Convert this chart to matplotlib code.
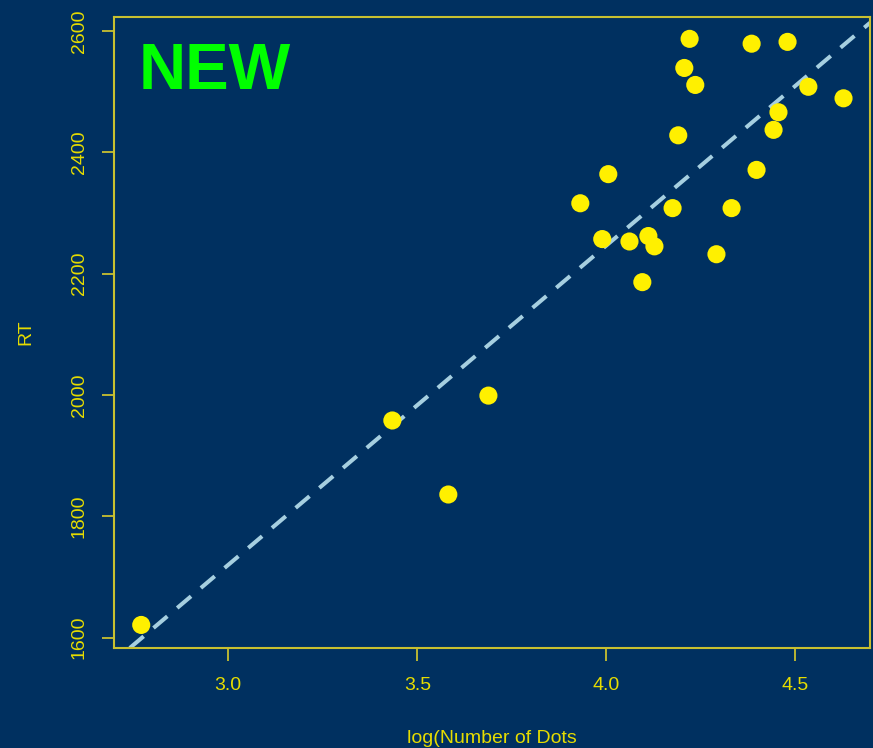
import matplotlib
matplotlib.use("Agg")
import matplotlib.pyplot as plt

plt.rcParams['font.family'] = ['Liberation Sans', 'DejaVu Sans']

log_dots = [2.770, 3.434, 3.582, 3.688, 3.931, 3.989, 4.005, 4.061, 4.095,
            4.111, 4.127, 4.175, 4.190, 4.206, 4.220, 4.235, 4.291, 4.331,
            4.384, 4.397, 4.442, 4.455, 4.479, 4.534, 4.627]
rt = [1621, 1958, 1836, 1999, 2316, 2257, 2364, 2253, 2186,
      2262, 2245, 2308, 2428, 2539, 2587, 2511, 2232, 2308,
      2579, 2371, 2437, 2466, 2582, 2508, 2489]

# fitted line
fit_intercept = 140.5
fit_slope = 526.5

x_ticks = [3.0, 3.5, 4.0, 4.5]
y_ticks = [1600, 1800, 2000, 2200, 2400, 2600]

bg = '#003060'
txt = '#E6DC00'
frame = '#C8C030'

fig = plt.figure(figsize=(8.73, 7.48), dpi=100, facecolor=bg)
ax = fig.add_axes([114/873, 1 - 648/748, 756/873, 631/748], facecolor=bg)

ax.axline((0, fit_intercept), slope=fit_slope, color='#A6CFE0', lw=2.9,
          dashes=(4.5, 3.2), zorder=2)
ax.scatter(log_dots, rt, s=170, color='#FFF000', edgecolors='none', zorder=3)

ax.set_xlim(2.698, 4.697)
ax.set_ylim(1583, 2623)
ax.set_xticks(x_ticks)
ax.set_xticklabels(['3.0', '3.5', '4.0', '4.5'])
ax.set_yticks(y_ticks)
ax.set_yticklabels([str(v) for v in y_ticks], rotation=90, va='center')

for s in ax.spines.values():
    s.set_color(frame)
    s.set_linewidth(1.5)
ax.tick_params(colors=frame, labelcolor=txt, labelsize=14, length=9, width=1.3)
ax.tick_params(axis='x', pad=12)
ax.tick_params(axis='y', pad=10)

ax.set_xlabel('log(Number of Dots', color=txt, fontsize=14, labelpad=26)
ax.set_ylabel('RT', color=txt, fontsize=14, labelpad=26)

ax.text(0.032, 0.96, 'NEW', transform=ax.transAxes, color='#00FF00',
        fontsize=47, fontweight='bold', va='top', ha='left')

fig.savefig('out.png', dpi=100, facecolor=bg)
